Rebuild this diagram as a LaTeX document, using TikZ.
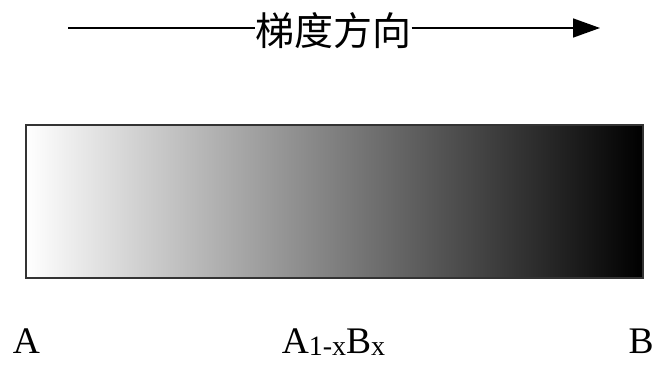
\documentclass[tikz,border=0pt]{standalone}
\usepackage{fontspec}
\setmainfont{Liberation Serif}
\newfontfamily\cjk{Noto Sans CJK SC}
\usetikzlibrary{arrows.meta}
\tikzset{
  lbl/.style={anchor=base, inner sep=0pt, font=\fontsize{37.5}{37.5}\selectfont},
  axisline/.style={line width=1.6pt, black},
}
\newcommand{\subsm}[1]{\raisebox{-2.5pt}{\fontsize{28}{28}\selectfont #1}}
\begin{document}
\begin{tikzpicture}[x=1pt,y=1pt]
\useasboundingbox (0,0) rectangle (656,367);
% gradient direction arrow
\coordinate (start) at (68,339);
\coordinate (stop) at (600,339);
\node[inner sep=0pt, font=\cjk\fontsize{39}{39}\selectfont] (title) at (333.5,336) {梯度方向};
\draw[axisline] (start) -- (title.west |- start);
\draw[axisline, -{Triangle[length=27pt,width=19pt]}] (title.east |- stop) -- (stop);
% gradient bar
\node[draw=black!80, line width=1.5pt, shading=axis, left color=white, right color=black,
      minimum width=617pt, minimum height=153pt, inner sep=0pt] (bar) at (334.5,165.5) {};
% labels
\node[lbl] (A) at (26.5,14) {A};
\node[lbl] (AB) at (333.5,14) {A\subsm{1-x}B\subsm{x}};
\node[lbl] (B) at (641,14) {B};
\end{tikzpicture}
\end{document}
